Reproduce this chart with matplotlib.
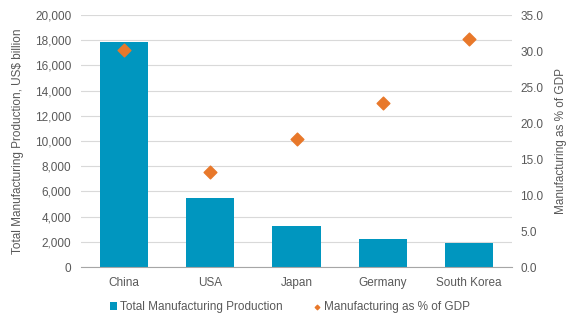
import matplotlib
matplotlib.use("Agg")
import matplotlib.pyplot as plt
from matplotlib.ticker import FuncFormatter, MultipleLocator

plt.rcParams['font.family'] = ['Liberation Sans', 'DejaVu Sans']

countries = ["China", "USA", "Japan", "Germany", "South Korea"]
production = [17850, 5480, 3250, 2230, 1930]
pct_gdp = [30.1, 13.2, 17.8, 22.8, 31.7]

bar_color = "#0096BF"
dia_color = "#E8782A"
text_color = "#595959"
grid_color = "#D9D9D9"
fs = 8.5

fig = plt.figure(figsize=(5.8, 3.26), dpi=100)
ax = fig.add_axes([81/580, 1-267/326, (512-81)/580, (267-15)/326])
ax2 = ax.twinx()

x = list(range(len(countries)))
b = ax.bar(x, production, width=0.56, color=bar_color, zorder=2,
           label="Total Manufacturing Production")
ax.set_xlim(-0.5, len(countries) - 0.5)
ax.set_ylim(0, 20000)
ax.yaxis.set_major_locator(MultipleLocator(2000))
ax.yaxis.set_major_formatter(FuncFormatter(lambda v, p: f"{int(v):,}"))
ax.grid(axis='y', color=grid_color, linewidth=0.8, zorder=0)
ax.set_axisbelow(True)

s = ax2.scatter(x, pct_gdp, marker='D', s=42, color=dia_color, zorder=3,
                label="Manufacturing as % of GDP")
ax2.set_ylim(0, 35)
ax2.yaxis.set_major_locator(MultipleLocator(5))
ax2.yaxis.set_major_formatter(FuncFormatter(lambda v, p: f"{v:.1f}"))

for a in (ax, ax2):
    for sp in ("top", "left", "right", "bottom"):
        a.spines[sp].set_visible(False)
    a.tick_params(axis='both', length=0, labelsize=fs, colors=text_color)
ax.spines["bottom"].set_visible(True)
ax.spines["bottom"].set_color("#A6A6A6")
ax.spines["bottom"].set_linewidth(0.8)

ax.set_xticks(x)
ax.set_xticklabels(countries)
ax.tick_params(axis='x', pad=7)
ax.tick_params(axis='y', pad=7)
ax2.tick_params(axis='y', pad=6)

ax.set_ylabel("Total Manufacturing Production, US$ billion", fontsize=fs,
              color=text_color, labelpad=8)
ax2.set_ylabel("Manufacturing as % of GDP", fontsize=fs, color=text_color,
               labelpad=8)

leg = fig.legend([b, s], ["Total Manufacturing Production", "Manufacturing as % of GDP"],
                 loc='center', bbox_to_anchor=(0.5, 1-307/326), ncol=2, frameon=False,
                 fontsize=fs, handlelength=0.6, handletextpad=0.3, columnspacing=2.6,
                 markerscale=0.35)
for t in leg.get_texts():
    t.set_color(text_color)

fig.savefig("out.png", dpi=100)
